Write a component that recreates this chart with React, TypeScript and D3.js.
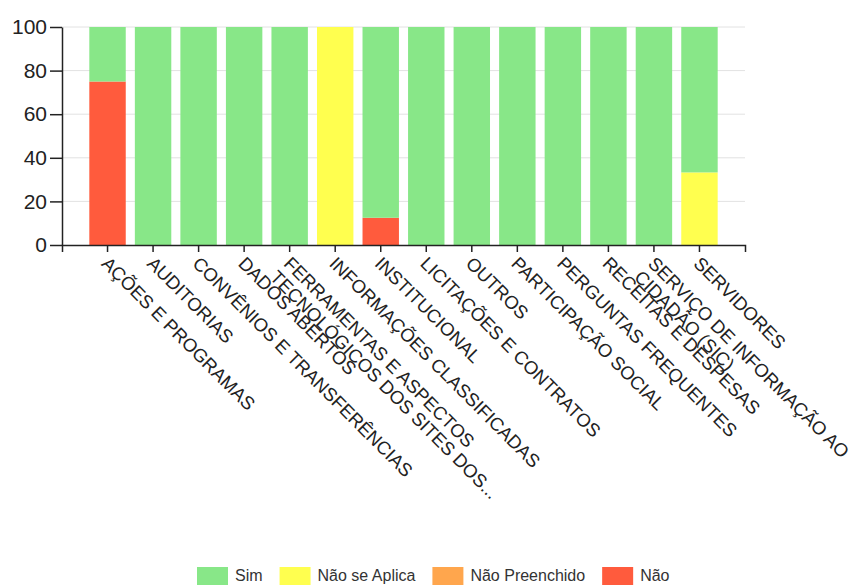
import React, { useEffect, useRef } from 'react';
import * as d3 from 'd3';

// categories (label lines as drawn under the axis)
const categories = [
  ['AÇÕES E PROGRAMAS'],
  ['AUDITORIAS'],
  ['CONVÊNIOS E TRANSFERÊNCIAS'],
  ['DADOS ABERTOS'],
  ['FERRAMENTAS E ASPECTOS', 'TECNOLÓGICOS DOS SITES DOS...'],
  ['INFORMAÇÕES CLASSIFICADAS'],
  ['INSTITUCIONAL'],
  ['LICITAÇÕES E CONTRATOS'],
  ['OUTROS'],
  ['PARTICIPAÇÃO SOCIAL'],
  ['PERGUNTAS FREQUENTES'],
  ['RECEITAS E DESPESAS'],
  ['SERVIÇO DE INFORMAÇÃO AO', 'CIDADÃO (SIC)'],
  ['SERVIDORES'],
];

// series values (percent)
const nao = [75, 0, 0, 0, 0, 0, 12.5, 0, 0, 0, 0, 0, 0, 0];
const naoPreenchido = [0, 0, 0, 0, 0, 0, 0, 0, 0, 0, 0, 0, 0, 0];
const naoSeAplica = [0, 0, 0, 0, 0, 100, 0, 0, 0, 0, 0, 0, 0, 33.3];
const sim = [25, 100, 100, 100, 100, 0, 87.5, 100, 100, 100, 100, 100, 100, 66.7];

const yTicks = [0, 20, 40, 60, 80, 100];

// stacked bottom -> top
const seriesNames = ['Não', 'Não Preenchido', 'Não se Aplica', 'Sim'];
const legendOrder = ['Sim', 'Não se Aplica', 'Não Preenchido', 'Não'];
const colors: Record<string, string> = {
  'Sim': '#88e788',
  'Não se Aplica': '#ffff4f',
  'Não Preenchido': '#ffa64d',
  'Não': '#ff5b3d',
};

const App: React.FC = () => {
  const ref = useRef<SVGSVGElement>(null);

  useEffect(() => {
    if (!ref.current) return;
    const svg = d3.select(ref.current);
    svg.selectAll('*').remove();

    const left = 62, right = 745, top = 27, bottom = 245;
    const font = 'Arial, "Liberation Sans", sans-serif';

    const keys = categories.map(c => c.join(' '));
    const rows = keys.map((k, i) => ({
      key: k,
      'Não': nao[i],
      'Não Preenchido': naoPreenchido[i],
      'Não se Aplica': naoSeAplica[i],
      'Sim': sim[i],
    }));

    const x = d3.scaleBand<string>()
      .domain(keys)
      .range([left, right])
      .paddingInner(0.2)
      .paddingOuter(0.6);

    const y = d3.scaleLinear().domain([0, 100]).range([bottom, top]);

    // gridlines
    svg.append('g')
      .selectAll('line')
      .data(yTicks.filter(t => t > 0))
      .enter()
      .append('line')
        .attr('x1', left)
        .attr('x2', right)
        .attr('y1', d => y(d))
        .attr('y2', d => y(d))
        .attr('stroke', '#e2e2e2')
        .attr('stroke-width', 1);

    // bars
    const stack = d3.stack<any>().keys(seriesNames);
    const layers = stack(rows);
    svg.append('g')
      .selectAll('g')
      .data(layers)
      .enter()
      .append('g')
        .attr('fill', d => colors[d.key])
      .selectAll('rect')
      .data(d => d)
      .enter()
      .append('rect')
        .attr('x', d => x(d.data.key) as number)
        .attr('width', x.bandwidth())
        .attr('y', d => y(d[1]))
        .attr('height', d => y(d[0]) - y(d[1]));

    // y axis
    const yAxis = svg.append('g')
      .attr('transform', `translate(${left},0)`)
      .call(d3.axisLeft(y).tickValues(yTicks).tickSize(12).tickSizeOuter(0).tickPadding(3));
    yAxis.selectAll('path, line').attr('stroke', '#222').attr('stroke-width', 1.5);
    yAxis.selectAll('text')
      .attr('font-size', '21px')
      .attr('font-family', font)
      .attr('fill', '#222');

    // x axis
    const xAxis = svg.append('g')
      .attr('transform', `translate(0,${bottom})`)
      .call(d3.axisBottom(x).tickSize(7).tickSizeOuter(7).tickFormat(() => ''));
    xAxis.selectAll('path, line').attr('stroke', '#222').attr('stroke-width', 1.5);

    // rotated category labels
    const labels = svg.append('g')
      .selectAll('text')
      .data(categories)
      .enter()
      .append('text')
        .attr('transform', (d, i) => `translate(${(x(keys[i]) as number) + x.bandwidth() / 2},${bottom + 7}) rotate(45)`)
        .attr('font-size', '18.5px')
        .attr('font-family', font)
        .attr('fill', '#222');
    labels.each(function (d) {
      const t = d3.select(this);
      d.forEach((line, j) => {
        t.append('tspan')
          .attr('x', 4)
          .attr('dy', j === 0 ? '0.75em' : '1.05em')
          .text(line);
      });
    });

    // legend
    const legend = svg.append('g').attr('transform', 'translate(197,567)');
    let lx = 0;
    legendOrder.forEach(name => {
      legend.append('rect')
        .attr('x', lx)
        .attr('y', 0)
        .attr('width', 31)
        .attr('height', 18)
        .attr('fill', colors[name]);
      const txt = legend.append('text')
        .attr('x', lx + 38)
        .attr('y', 14)
        .attr('font-size', '16px')
        .attr('font-family', font)
        .attr('fill', '#333')
        .text(name);
      const w = (txt.node() as SVGTextElement).getComputedTextLength();
      lx += 38 + w + 17;
    });
  }, []);

  return (
    <svg
      ref={ref}
      width={858}
      height={587}
      style={{ position: 'absolute', left: 0, top: 0, background: '#fff', display: 'block' }}
    />
  );
};

export default App;
